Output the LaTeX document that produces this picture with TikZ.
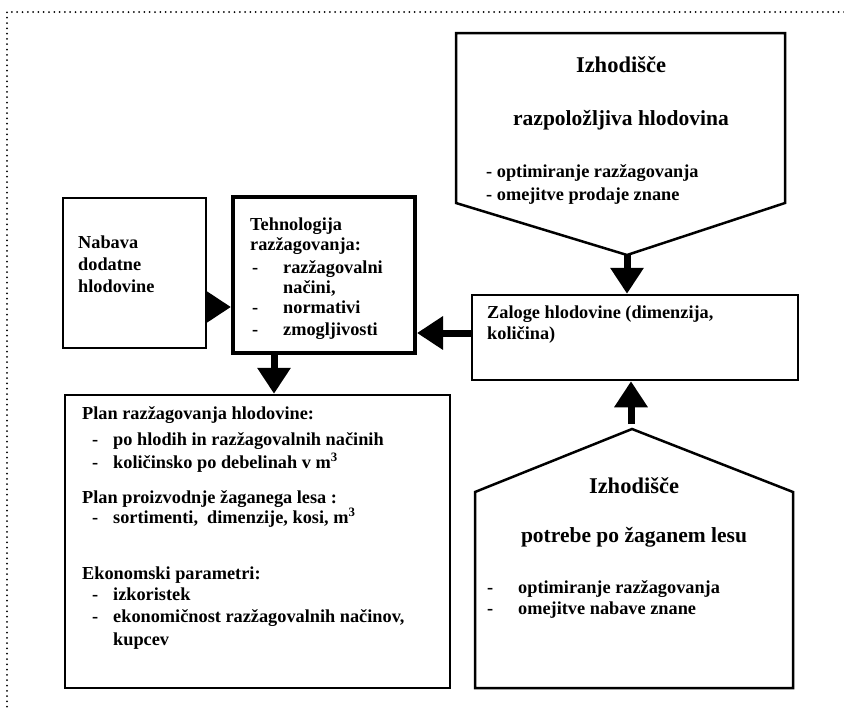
\documentclass[tikz,border=0pt]{standalone}
\usepackage{fontspec}
\setmainfont{Liberation Serif}
\usetikzlibrary{arrows.meta}
\begin{document}
\begin{tikzpicture}[x=1pt,y=-1pt,
  box/.style={draw, line width=2.5pt, inner sep=0pt, rectangle},
  thickbox/.style={draw, line width=4pt, inner sep=0pt, rectangle},
  penta/.style={draw, line width=2.5pt, line join=miter},
  txt/.style={anchor=base west, inner sep=0pt, font=\fontsize{18.3}{21}\selectfont\bfseries},
  big/.style={anchor=base, inner sep=0pt, font=\fontsize{22.5}{25}\selectfont\bfseries},
  mid/.style={anchor=base, inner sep=0pt, font=\fontsize{21.5}{24}\selectfont\bfseries},
  arr/.style={line width=7pt, -{Triangle[width=32pt,length=26pt]}},
  dots/.style={line width=2pt, line cap=round, dash pattern=on 0pt off 5.3pt}]
\useasboundingbox (0,0) rectangle (844,710);
\fill[white] (0,0) rectangle (844,710);
% dotted frame
\draw[dots] (844,12) -- (7,12) -- (7,710);

% boxes
\node[box, minimum width=143pt, minimum height=150pt] (nab) at (134.5,273) {};
\node[thickbox, minimum width=182pt, minimum height=156pt] (teh) at (324,275) {};
\node[box, minimum width=326pt, minimum height=85pt] (zal) at (635,337.5) {};
\node[box, minimum width=385pt, minimum height=293pt] (plan) at (257.5,541.5) {};

% top pentagon
\draw[penta] (456,33) -- (785,33) -- (785,203) -- (627,255) -- (456,203) -- cycle;
\coordinate (tapex) at (627,255);
% bottom pentagon
\draw[penta] (475,688) -- (475,492) -- (632,429) -- (793,492) -- (793,688) -- cycle;
\coordinate (bapex) at (631,424);

% arrows
\draw[arr] (tapex) -- (tapex |- zal.north);
\draw[arr] (bapex) -- (bapex |- zal.south);
\draw[arr] (zal.west |- 0,333) -- (teh.east |- 0,333);
\draw[arr] (nab.east |- 0,307) -- (teh.west |- 0,307);
\draw[arr] (teh.south -| 274,0) -- (plan.north -| 274,0);

% top pentagon text
\node[big] (t1) at (621,72) {Izhodišče};
\node[mid] (t2) at (621,125) {razpoložljiva hlodovina};
\node[txt] (t3) at (486,177) {- optimiranje razžagovanja};
\node[txt] (t4) at (486,200) {- omejitve prodaje znane};

% bottom pentagon text
\node[big] (b1) at (634,493) {Izhodišče};
\node[mid] (b2) at (634,542) {potrebe po žaganem lesu};
\node[txt] (b3d) at (487,593) {-};
\node[txt] (b3) at (518,593) {optimiranje razžagovanja};
\node[txt] (b4d) at (487,614) {-};
\node[txt] (b4) at (518,614) {omejitve nabave znane};

% Zaloge text
\node[txt] (z1) at (487,318) {Zaloge hlodovine (dimenzija,};
\node[txt] (z2) at (487,339) {količina)};

% Nabava text
\node[txt] (n1) at (78,248) {Nabava};
\node[txt] (n2) at (78,270) {dodatne};
\node[txt] (n3) at (78,292) {hlodovine};

% Tehnologija text
\node[txt] (h1) at (250,230) {Tehnologija};
\node[txt] (h2) at (250,250) {razžagovanja:};
\node[txt] (h3d) at (252,273) {-};
\node[txt] (h3) at (283,273) {razžagovalni};
\node[txt] (h4) at (283,293) {načini,};
\node[txt] (h5d) at (252,313) {-};
\node[txt] (h5) at (283,313) {normativi};
\node[txt] (h6d) at (252,335) {-};
\node[txt] (h6) at (283,335) {zmogljivosti};

% Plan text
\node[txt] (p1) at (82,419) {Plan razžagovanja hlodovine:};
\node[txt] (p2d) at (92,445) {-};
\node[txt] (p2) at (113,445) {po hlodih in razžagovalnih načinih};
\node[txt] (p3d) at (92,468) {-};
\node[txt] (p3) at (113,468) {količinsko po debelinah v m\textsuperscript{3}};
\node[txt] (p4) at (82,503) {Plan proizvodnje žaganega lesa :};
\node[txt] (p5d) at (92,523) {-};
\node[txt] (p5) at (113,523) {sortimenti,\ \ dimenzije, kosi, m\textsuperscript{3}};
\node[txt] (p6) at (82,579) {Ekonomski parametri:};
\node[txt] (p7d) at (92,600) {-};
\node[txt] (p7) at (113,600) {izkoristek};
\node[txt] (p8d) at (92,622) {-};
\node[txt] (p8) at (113,622) {ekonomičnost razžagovalnih načinov,};
\node[txt] (p9) at (113,645) {kupcev};
\end{tikzpicture}
\end{document}
